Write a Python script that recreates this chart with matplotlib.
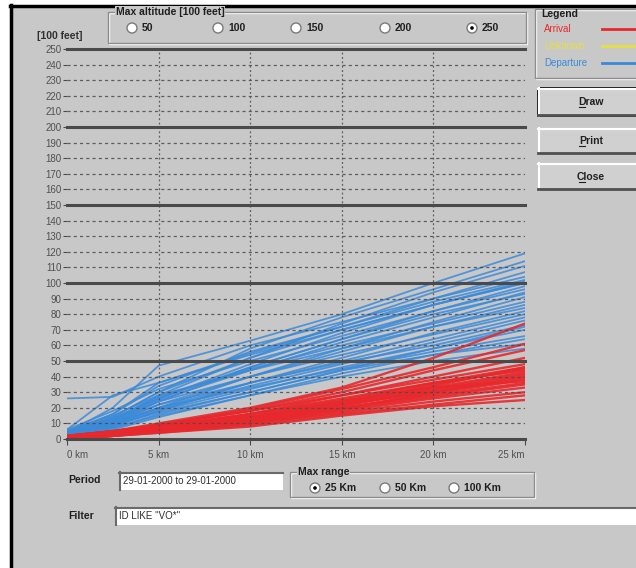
import matplotlib
matplotlib.use("Agg")
import matplotlib.pyplot as plt
from matplotlib.patches import Rectangle, Circle

plt.rcParams['font.family'] = ['Liberation Sans', 'DejaVu Sans']

# distance along track [km]
km = [0, 2.5, 5, 10, 15, 20, 25]

# departure profiles [100 feet]
departure = [
    [4, 20, 47, 63, 80, 100, 119],
    [3, 14, 30, 58, 78, 96, 114],
    [2, 12, 28, 52, 74, 94, 111],
    [5, 16, 34, 56, 72, 90, 107],
    [26, 27, 40, 60, 75, 90, 104],
    [3, 12, 26, 48, 68, 86, 101],
    [4, 14, 30, 52, 70, 86, 100],
    [2, 10, 24, 46, 64, 82, 98],
    [6, 18, 32, 50, 66, 82, 96],
    [3, 11, 25, 44, 62, 78, 94],
    [2, 9, 20, 40, 58, 75, 91],
    [4, 13, 27, 45, 60, 74, 88],
    [3, 10, 22, 40, 56, 72, 86],
    [5, 15, 28, 44, 58, 72, 84],
    [2, 8, 18, 36, 52, 68, 82],
    [3, 12, 24, 40, 54, 67, 80],
    [4, 10, 20, 36, 50, 64, 78],
    [2, 9, 19, 34, 48, 62, 76],
    [3, 11, 22, 36, 49, 60, 73],
    [1, 7, 16, 30, 44, 58, 72],
    [2, 8, 18, 32, 46, 58, 70],
    [4, 10, 20, 33, 45, 56, 66],
    [1, 6, 14, 28, 42, 54, 64],
    [3, 9, 17, 30, 44, 54, 61],
    [2, 7, 15, 28, 40, 50, 58],
    [6, 28, 36, 54, 70, 86, 100],
    [3, 16, 36, 55, 72, 88, 102],
    [2, 13, 26, 46, 64, 80, 93],
]

# arrival profiles [100 feet]
arrival = [
    [2, 5, 10, 20, 33, 52, 74],
    [1, 4, 9, 19, 32, 46, 61],
    [2, 5, 9, 18, 30, 44, 57],
    [1, 3, 7, 16, 28, 40, 52],
    [2, 5, 9, 18, 28, 38, 48],
    [1, 4, 8, 16, 26, 36, 46],
    [0, 3, 6, 14, 24, 35, 45],
    [2, 5, 8, 15, 24, 33, 43],
    [1, 3, 6, 13, 22, 31, 41],
    [1, 4, 7, 14, 22, 30, 40],
    [0, 2, 5, 12, 20, 29, 38],
    [2, 4, 7, 13, 20, 28, 36],
    [1, 3, 6, 11, 19, 27, 35],
    [0, 2, 5, 10, 18, 26, 33],
    [1, 3, 5, 10, 17, 24, 30],
    [1, 2, 4, 9, 16, 22, 28],
    [0, 2, 4, 8, 15, 21, 25],
    [2, 4, 7, 14, 23, 34, 46],
    [1, 3, 6, 12, 21, 32, 42],
    [1, 4, 8, 16, 25, 36, 44],
    [0, 2, 5, 11, 19, 30, 39],
    [1, 3, 6, 13, 22, 33, 37],
]

alt_options = ['50', '100', '150', '200', '250']
range_options = ['25 Km', '50 Km', '100 Km']
x_ticks = [0, 5, 10, 15, 20, 25]

GRAY = '#c8c8c8'
DARK = '#4a4a4a'
BLUE = '#3b8ad9'
RED = '#e8282c'
YELLOW = '#e6e03c'

W, H = 636, 568
fig = plt.figure(figsize=(W / 100, H / 100), dpi=100)
fig.patch.set_facecolor('white')

# window chrome drawn in pixel coordinates
ui = fig.add_axes([0, 0, 1, 1])
ui.set_xlim(0, W)
ui.set_ylim(H, 0)
ui.axis('off')
ui.add_patch(Rectangle((10, 5), W, H, facecolor=GRAY, edgecolor='none'))
ui.plot([10, W], [6, 6], color='black', lw=2.5)
ui.plot([10.5, 10.5], [5, H], color='black', lw=2.5)


def groupbox(x0, y0, x1, y1, title=None):
    ui.add_patch(Rectangle((x0 + 1, y0 + 1), x1 - x0, y1 - y0, fill=False, edgecolor='white', lw=1))
    ui.add_patch(Rectangle((x0, y0), x1 - x0, y1 - y0, fill=False, edgecolor='#8c8c8c', lw=1))
    if title:
        ui.text(x0 + 8, y0, title, fontsize=7.5, weight='bold', va='center', ha='left',
                color='#202020', bbox=dict(facecolor=GRAY, edgecolor='none', pad=0.5))


def radio(x, y, label, checked=False):
    ui.add_patch(Circle((x, y), 5, facecolor='white', edgecolor='#7a7a7a', lw=1))
    if checked:
        ui.add_patch(Circle((x, y), 1.8, facecolor='black', edgecolor='none'))
    ui.text(x + 10, y, label, fontsize=7.5, weight='bold', va='center', ha='left', color='#202020')


def button(x0, y0, x1, y1, label, default=False):
    ui.add_patch(Rectangle((x0, y0), x1 - x0, y1 - y0, facecolor='#d0d0d0', edgecolor='none'))
    ui.plot([x0, x1], [y0 + 1, y0 + 1], color='white', lw=1.5)
    ui.plot([x0 + 1, x0 + 1], [y0, y1], color='white', lw=1.5)
    ui.plot([x0, x1], [y1 - 1, y1 - 1], color='#505050', lw=2)
    if default:
        ui.add_patch(Rectangle((x0, y0), x1 - x0, y1 - y0, fill=False, edgecolor='black', lw=1.2))
    ui.text((x0 + x1) / 2 + 2, (y0 + y1) / 2, label, fontsize=7.5, weight='bold',
            ha='center', va='center', color='#202020')
    ui.plot([(x0 + x1) / 2 - 10, (x0 + x1) / 2 - 4], [(y0 + y1) / 2 + 5] * 2, color='#202020', lw=0.8)


def textbox(x0, y0, x1, y1, txt):
    ui.add_patch(Rectangle((x0, y0), x1 - x0, y1 - y0, facecolor='white', edgecolor='none'))
    ui.plot([x0, x1], [y0 + 0.5, y0 + 0.5], color='#6a6a6a', lw=1.5)
    ui.plot([x0 + 0.5, x0 + 0.5], [y0, y1], color='#6a6a6a', lw=1.5)
    ui.text(x0 + 4, (y0 + y1) / 2, txt, fontsize=7, ha='left', va='center', color='#303030')


# altitude selector
groupbox(108, 12, 526, 43, 'Max altitude [100 feet]')
for xr, lab in zip([132, 218, 296, 385, 472], alt_options):
    radio(xr, 28, lab, checked=(lab == '250'))

# legend box
groupbox(535, 9, 640, 78)
ui.text(541, 14, 'Legend', fontsize=7.5, weight='bold', va='center', color='#202020')
for yy, lab, col in [(29, 'Arrival', RED), (46, 'Unknown', YELLOW), (63, 'Departure', BLUE)]:
    ui.text(544, yy, lab, fontsize=7, va='center', color=col)
    ui.plot([602, 636], [yy, yy], color=col, lw=2)

button(538, 88, 640, 116, 'Draw', default=True)
button(538, 128, 640, 154, 'Print')
button(538, 163, 640, 190, 'Close')

ui.text(37, 36, '[100 feet]', fontsize=7.5, weight='bold', va='center', color='#303030')

# period / range / filter
ui.text(68, 480, 'Period', fontsize=7.5, weight='bold', va='center', color='#202020')
textbox(119, 472, 283, 490, '29-01-2000 to 29-01-2000')
groupbox(290, 472, 534, 497, 'Max range')
for xr, lab in zip([315, 385, 454], range_options):
    radio(xr, 488, lab, checked=(lab == '25 Km'))
ui.text(68, 516, 'Filter', fontsize=7.5, weight='bold', va='center', color='#202020')
textbox(115, 507, 640, 525, 'ID LIKE "VO*"')

# the altitude chart
ax = fig.add_axes([67 / W, 1 - 439 / H, (525 - 67) / W, 390 / H])
ax.set_facecolor('none')
for s in ax.spines.values():
    s.set_visible(False)
ax.set_xlim(0, 25)
ax.set_ylim(0, 250)

for prof in departure:
    ax.plot(km, prof, color=BLUE, lw=1.3, alpha=0.85, zorder=2)
for prof in arrival:
    ax.plot(km, prof, color=RED, lw=1.7, alpha=0.9, zorder=2)

for v in range(0, 251, 10):
    if v % 50 == 0:
        ax.axhline(v, color=DARK, lw=2.2, zorder=3, clip_on=False)
    else:
        ax.axhline(v, color=DARK, lw=0.9, ls=(0, (2.5, 2.5)), zorder=3, alpha=0.85)
for v in x_ticks[1:-1]:
    ax.axvline(v, color=DARK, lw=0.9, ls=(0, (1.5, 2)), zorder=3, alpha=0.85)

ax.set_yticks(range(0, 251, 10))
ax.tick_params(axis='y', length=3, width=0.8, color=DARK, labelsize=7, labelcolor='#505050', pad=1)
ax.set_xticks(x_ticks)
ax.set_xticklabels([f'{t} km' for t in x_ticks])
ax.tick_params(axis='x', length=4, width=0.8, color=DARK, labelsize=7, labelcolor='#505050', pad=4)
labs = ax.get_xticklabels()
labs[0].set_ha('left')
labs[-1].set_ha('right')

fig.savefig('out.png', dpi=100, facecolor=fig.get_facecolor())
